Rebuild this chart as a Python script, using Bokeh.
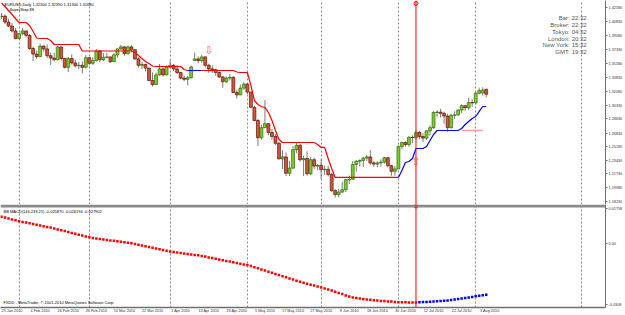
from bokeh.plotting import figure
from bokeh.models import (Range1d, LinearAxis, FixedTicker, Span, Label,
                          BoxAnnotation, Grid, ColumnDataSource)
from bokeh.layouts import column
from bokeh.embed import file_html
from bokeh.resources import INLINE
from bokeh.core.properties import value

FONT = "Liberation Sans"
NAN = float("nan")

# ---------------- data (EURUSD, Daily, 25 Jan 2010 .. 5 Aug 2010) ----------------
opens = [1.4140,1.4145,1.4070,1.4020,1.3960, 1.3865,1.3925,1.3960,1.3905,1.3740,
         1.3670,1.3640,1.3770,1.3735,1.3650, 1.3620,1.3600,1.3760,1.3615,1.3505,
         1.3615,1.3560,1.3525,1.3530,1.3505, 1.3625,1.3555,1.3590,1.3710,1.3600,
         1.3630,1.3635,1.3575,1.3660,1.3735, 1.3760,1.3675,1.3760,1.3725,1.3610,
         1.3530,1.3540,1.3495,1.3340,1.3290, 1.3410,1.3485,1.3410,1.3510,1.3530,
         1.3485,1.3440,1.3370,1.3355,1.3375, 1.3590,1.3610,1.3590,1.3635,1.3530,
         1.3485,1.3475,1.3440,1.3385,1.3325, 1.3370,1.3380,1.3190,1.3160,1.3245,
         1.3295,1.3195,1.3005,1.2840,1.2625, 1.2750,1.2800,1.2690,1.2640,1.2555,
         1.2360,1.2385,1.2180,1.2245,1.2475, 1.2530,1.2350,1.2365,1.2175,1.2350,
         1.2270,1.2280,1.2225,1.2230,1.2165, 1.1965,1.1915,1.1945,1.1975,1.2100,
         1.2105,1.2290,1.2330,1.2340,1.2370, 1.2385,1.2310,1.2295,1.2310,1.2320,
         1.2375,1.2275,1.2205,1.2235,1.2515, 1.2565,1.2540,1.2630,1.2625,1.2690,
         1.2640,1.2620,1.2710,1.2750,1.2940, 1.2945,1.2930,1.2895,1.2750,1.2905,
         1.2910,1.2970,1.3025,1.3000,1.3065, 1.3060,1.3180,1.3185,1.3230]
highs = [1.4185,1.4165,1.4110,1.4060,1.3995, 1.3935,1.3995,1.3965,1.3920,1.3765,
         1.3715,1.3800,1.3780,1.3790,1.3690, 1.3690,1.3770,1.3765,1.3625,1.3635,
         1.3665,1.3600,1.3570,1.3580,1.3660, 1.3630,1.3630,1.3735,1.3715,1.3685,
         1.3685,1.3640,1.3680,1.3740,1.3785, 1.3770,1.3775,1.3780,1.3730,1.3630,
         1.3575,1.3550,1.3500,1.3440,1.3440, 1.3545,1.3495,1.3530,1.3590,1.3545,
         1.3535,1.3450,1.3400,1.3395,1.3525, 1.3690,1.3640,1.3660,1.3645,1.3550,
         1.3530,1.3490,1.3450,1.3395,1.3390, 1.3420,1.3395,1.3225,1.3290,1.3320,
         1.3310,1.3200,1.3025,1.2860,1.2785, 1.3095,1.2810,1.2735,1.2670,1.2575,
         1.2470,1.2440,1.2335,1.2520,1.2560, 1.2545,1.2400,1.2455,1.2385,1.2375,
         1.2295,1.2355,1.2275,1.2275,1.2185, 1.1980,1.1985,1.2075,1.2110,1.2150,
         1.2335,1.2345,1.2355,1.2385,1.2410, 1.2470,1.2335,1.2330,1.2355,1.2385,
         1.2385,1.2285,1.2270,1.2530,1.2575, 1.2580,1.2645,1.2655,1.2720,1.2710,
         1.2680,1.2720,1.2780,1.2960,1.2970, 1.2985,1.2950,1.2925,1.2925,1.2955,
         1.2985,1.3045,1.3030,1.3125,1.3105, 1.3200,1.3250,1.3255,1.3239]
lows = [1.4110,1.4045,1.4005,1.3940,1.3855, 1.3855,1.3905,1.3875,1.3720,1.3580,
        1.3610,1.3630,1.3700,1.3620,1.3535, 1.3580,1.3590,1.3590,1.3490,1.3445,
        1.3540,1.3500,1.3480,1.3430,1.3490, 1.3530,1.3535,1.3575,1.3570,1.3580,
        1.3615,1.3560,1.3570,1.3625,1.3720, 1.3650,1.3665,1.3690,1.3600,1.3500,
        1.3480,1.3455,1.3330,1.3265,1.3285, 1.3400,1.3390,1.3405,1.3490,1.3455,
        1.3420,1.3355,1.3330,1.3280,1.3365, 1.3580,1.3555,1.3560,1.3505,1.3435,
        1.3435,1.3400,1.3370,1.3250,1.3305, 1.3340,1.3185,1.3115,1.3155,1.3225,
        1.3170,1.2995,1.2830,1.2520,1.2600, 1.2750,1.2655,1.2600,1.2530,1.2355,
        1.2235,1.2145,1.2145,1.2230,1.2430, 1.2325,1.2145,1.2150,1.2155,1.2230,
        1.2215,1.2110,1.2160,1.2140,1.1945, 1.1876,1.1877,1.1935,1.1945,1.2045,
        1.2100,1.2200,1.2265,1.2260,1.2335, 1.2285,1.2260,1.2255,1.2265,1.2300,
        1.2255,1.2150,1.2150,1.2230,1.2480, 1.2510,1.2510,1.2555,1.2600,1.2605,
        1.2570,1.2595,1.2650,1.2735,1.2880, 1.2875,1.2800,1.2700,1.2740,1.2860,
        1.2900,1.2930,1.2960,1.2970,1.3010, 1.3040,1.3170,1.3150,1.3130]
closes = [1.4145,1.4070,1.4020,1.3960,1.3865, 1.3925,1.3960,1.3905,1.3740,1.3670,
          1.3640,1.3770,1.3735,1.3650,1.3620, 1.3600,1.3760,1.3615,1.3505,1.3615,
          1.3560,1.3525,1.3530,1.3505,1.3625, 1.3555,1.3590,1.3710,1.3600,1.3630,
          1.3635,1.3575,1.3660,1.3735,1.3760, 1.3675,1.3760,1.3725,1.3610,1.3530,
          1.3540,1.3495,1.3340,1.3290,1.3410, 1.3485,1.3410,1.3510,1.3530,1.3485,
          1.3440,1.3370,1.3355,1.3375,1.3510, 1.3610,1.3590,1.3635,1.3530,1.3485,
          1.3475,1.3440,1.3385,1.3325,1.3370, 1.3380,1.3190,1.3160,1.3245,1.3295,
          1.3195,1.3005,1.2840,1.2625,1.2750, 1.2800,1.2690,1.2640,1.2555,1.2360,
          1.2385,1.2180,1.2245,1.2475,1.2530, 1.2350,1.2365,1.2175,1.2350,1.2270,
          1.2280,1.2225,1.2230,1.2165,1.1965, 1.1915,1.1945,1.1975,1.2100,1.2105,
          1.2290,1.2330,1.2340,1.2370,1.2385, 1.2310,1.2295,1.2310,1.2320,1.2375,
          1.2275,1.2205,1.2235,1.2515,1.2565, 1.2540,1.2630,1.2625,1.2690,1.2640,
          1.2620,1.2710,1.2750,1.2940,1.2945, 1.2930,1.2895,1.2750,1.2905,1.2910,
          1.2970,1.3025,1.3000,1.3065,1.3060, 1.3180,1.3215,1.3220,1.3168]

# trailing stop line: red while falling trend, blue while rising trend
stop_red = ([1.4311,1.4265,1.4215,1.4165,1.4115,1.4065,1.4065,1.4065,1.4028,1.3953,
             1.3871,1.3865,1.3865,1.3865,1.3840,1.3790,1.3790,1.3790,1.3790,1.3790,
             1.3790,1.3790,1.3790,1.3709,1.3709,1.3709,1.3709,1.3709,1.3709,1.3709,
             1.3709,1.3709,1.3709,1.3709,1.3709,1.3709,1.3709,1.3709,1.3690,1.3653,
             1.3615,1.3578,1.3553,1.3521,1.3515,1.3515,1.3515,1.3515,1.3515,1.3515,
             1.3515,1.3515,1.3478,1.3465, NAN, NAN, NAN,1.3465,1.3465,1.3465,
             1.3465,1.3465,1.3465,1.3465,1.3465,1.3465,1.3465,1.3446,1.3440,1.3440,
             1.3440,1.3278,1.3090,1.3040,1.3015,1.3003,1.2940,1.2840,1.2715,1.2603,
             1.2565,1.2565,1.2565,1.2565,1.2565,1.2565,1.2565,1.2565,1.2565,1.2565,
             1.2540,1.2503,1.2503,1.2365,1.2240,1.2128,1.2128,1.2128,1.2128,1.2128,
             1.2128,1.2128,1.2128,1.2128,1.2128,1.2128,1.2128,1.2128,1.2128,1.2128,
             1.2128,1.2128,1.2128,1.2128] + [NAN] * 25)
stop_blue = ([NAN] * 53 + [1.3465,1.3465,1.3465,1.3465,1.3465] + [NAN] * 55 +
             [1.2128,1.2215,1.2315,1.2328,1.2365,1.2490,1.2490,1.2490,1.2515,1.2590,
              1.2665,1.2715,1.2715,1.2715,1.2715,1.2715,1.2715,1.2715,1.2740,1.2790,
              1.2828,1.2865,1.2890,1.2953,1.3015,1.3015])

# BB MACD(144,233,21) line values
macd = [0.01351,0.01308,0.01263,0.01217,0.01172,0.01126,0.01091,0.01055,0.01020,0.00980,
        0.00944,0.00909,0.00874,0.00838,0.00803,0.00758,0.00712,0.00667,0.00626,0.00581,
        0.00535,0.00490,0.00444,0.00404,0.00359,0.00313,0.00283,0.00258,0.00232,0.00207,
        0.00182,0.00157,0.00136,0.00111,0.00086,0.00061,0.00035,0.00010,-0.00025,-0.00061,
        -0.00101,-0.00141,-0.00177,-0.00217,-0.00258,-0.00293,-0.00333,-0.00369,-0.00409,-0.00429,
        -0.00455,-0.00480,-0.00500,-0.00525,-0.00550,-0.00576,-0.00596,-0.00626,-0.00662,-0.00702,
        -0.00737,-0.00773,-0.00808,-0.00843,-0.00879,-0.00914,-0.00949,-0.00985,-0.01020,-0.01055,
        -0.01091,-0.01136,-0.01197,-0.01252,-0.01308,-0.01364,-0.01424,-0.01480,-0.01535,-0.01596,
        -0.01651,-0.01707,-0.01762,-0.01823,-0.01879,-0.01934,-0.01980,-0.02030,-0.02081,-0.02126,
        -0.02177,-0.02227,-0.02273,-0.02323,-0.02368,-0.02434,-0.02495,-0.02555,-0.02621,-0.02682,
        -0.02732,-0.02757,-0.02778,-0.02798,-0.02823,-0.02843,-0.02868,-0.02884,-0.02899,-0.02909,
        -0.02924,-0.02934,-0.02949,-0.02964,-0.02969,-0.02972,-0.02974,-0.02976,-0.02980,-0.02969,
        -0.02959,-0.02949,-0.02939,-0.02924,-0.02914,-0.02904,-0.02894,-0.02879,-0.02858,-0.02828,
        -0.02803,-0.02772,-0.02747,-0.02722,-0.02697,-0.02666,-0.02641,-0.02616,-0.02591]

date_label_bars = [0, 8, 16, 24, 32, 40, 48, 56, 64, 72, 80, 88, 96, 104, 112, 120, 128, 136]
date_labels = ["25 Jan 2010", "4 Feb 2010", "16 Feb 2010", "26 Feb 2010", "10 Mar 2010",
               "22 Mar 2010", "1 Apr 2010", "13 Apr 2010", "23 Apr 2010", "5 May 2010",
               "17 May 2010", "27 May 2010", "8 Jun 2010", "18 Jun 2010", "30 Jun 2010",
               "12 Jul 2010", "22 Jul 2010", "3 Aug 2010"]
grid_bars = [5, 25, 48, 70, 91, 113, 135, 165]
price_ticks = [1.42580, 1.40830, 1.39080, 1.37330, 1.35580, 1.33830, 1.32080, 1.30330,
               1.28630, 1.26830, 1.25180, 1.23430, 1.21730, 1.19980, 1.18230]
macd_ticks = [0.01758, 0.0, -0.0308]
macd_tick_labels = ["0.01758", "0.00", "-0.0308"]
clock_names = ["Bar:", "Broker:", "Tokyo:", "London:", "New York:", "GMT:"]
clock_times = ["22:32", "22:32", "04:32", "20:32", "15:32", "19:32"]
arrow_bars = [59, 118]
arrow_prices = [1.3710, 1.2322]
arrow_glyphs = ["\u21e9", "\u21e7"]
level_line = {"from": 131, "to": 137, "price": 1.2715}
vline_bar = 118
vline_text = "2010.07.08 00:00"
last_price = 1.31680
header = "EURUSD,Daily  1.32300 1.32390 1.31300 1.31680"
ind_name = "SuperStop 88"
macd_header = "BB MACD(144,233,21) -0.025870 -0.026194 -0.027902"
footer = "FXDD - MetaTrader, \u00a9 2001-2010 MetaQuotes Software Corp."

# ---------------- layout constants (pixels of the 625x315 window) ----------------
PX_BAR = 3.53          # pixels per bar
X0 = 1.0               # pixel of bar 0
FRAME_W = 608
P_TOP = 1.434          # price at top edge
P_PX = 0.00125         # price per pixel
M_PX = 0.000505        # macd per pixel
M_ZERO_Y = 243         # pixel of macd zero
H1, FRAME2_H, H2 = 204, 103, 111
RB = 17

def bx(px):
    return (px - X0) / PX_BAR

def py(y):
    return P_TOP - y * P_PX

def my(y):
    return (M_ZERO_Y - y) * M_PX

xr1 = Range1d(bx(0), bx(FRAME_W))
xr2 = Range1d(bx(0), bx(FRAME_W))

def make_fig(height, xr, yr, bottom_border):
    f = figure(width=625, height=height, x_range=xr, y_range=yr,
               toolbar_location=None, output_backend="svg",
               x_axis_location=None, y_axis_location=None,
               min_border_left=0, min_border_top=0, min_border_bottom=bottom_border,
               min_border_right=RB,
               outline_line_color=None, background_fill_color="white",
               border_fill_color="white")
    f.grid.visible = False
    f.add_layout(Grid(dimension=0, ticker=FixedTicker(ticks=grid_bars),
                      grid_line_color="#8c8c8c", grid_line_dash="2 2", grid_line_width=1))
    return f

def right_axis(ticks, labels):
    return LinearAxis(ticker=FixedTicker(ticks=ticks),
                      major_label_overrides=dict(zip(ticks, labels)),
                      major_label_text_font=FONT, major_label_text_font_size="3.8px",
                      major_label_text_color="#333333", major_label_standoff=1,
                      major_tick_out=2, major_tick_in=0, minor_tick_out=0, minor_tick_in=0,
                      axis_line_color="#707070", major_tick_line_color="#707070")

# ---------------- price panel ----------------
p1 = make_fig(H1, xr1, Range1d(py(H1), py(0)), 0)
p1.add_layout(right_axis(price_ticks, ["%.5f" % t for t in price_ticks]), "right")

n = len(opens)
xs = list(range(n))
up = [c >= o for o, c in zip(opens, closes)]
src = ColumnDataSource(dict(
    x=xs, high=highs, low=lows,
    top=[max(o, c) for o, c in zip(opens, closes)],
    bottom=[min(o, c) for o, c in zip(opens, closes)],
    fill=["#7dcb2a" if u else "#d2553c" for u in up],
    edge=["#2f6a0a" if u else "#5e1608" for u in up]))

p1.segment(x0="x", y0="low", x1="x", y1="high", source=src, line_color="#7a7a7a", line_width=1)
p1.vbar(x="x", top="top", bottom="bottom", width=0.82, source=src,
        fill_color="fill", line_color="edge", line_width=0.7)

p1.line(xs, stop_red, line_color="#ff0000", line_width=1.2)
p1.line(xs, stop_blue, line_color="#0000ff", line_width=1.2)
p1.segment(x0=[level_line["from"]], y0=[level_line["price"]],
           x1=[level_line["to"]], y1=[level_line["price"]],
           line_color="#ff9a9a", line_width=1.5)

p1.text(x=arrow_bars, y=arrow_prices, text=arrow_glyphs, text_font=value("DejaVu Sans"),
        text_font_size="11px", text_color="#ff6060", text_align="center", text_baseline="middle")

p1.add_layout(Span(location=vline_bar, dimension="height", line_color="#ff0000", line_width=1))
p1.scatter([vline_bar], [py(3)], marker="circle", size=4, fill_color="white", line_color="#ff0000")

p1.add_layout(Label(x=bx(4), y=py(1), text=header, text_font=FONT, text_font_size="4px",
                    text_color="#000000", text_baseline="top"))
p1.add_layout(Label(x=bx(9), y=py(6.5), text=ind_name, text_font=FONT, text_font_size="4px",
                    text_color="#000000", text_baseline="top"))
for k, (nm, tm) in enumerate(zip(clock_names, clock_times)):
    yy = py(17.3 + 6.9 * k)
    p1.add_layout(Label(x=bx(572), y=yy, text=nm, text_font=FONT, text_font_size="6px",
                        text_color="#555555", text_align="right", text_baseline="middle"))
    p1.add_layout(Label(x=bx(574), y=yy, text=tm, text_font=FONT, text_font_size="6px",
                        text_color="#555555", text_align="left", text_baseline="middle"))
p1.add_layout(Label(x=bx(609.5), y=last_price, text="%.5f" % last_price, text_font=FONT,
                    text_font_size="3.8px", text_color="white", text_baseline="middle",
                    background_fill_color="#000000", padding=1))

# ---------------- indicator panel ----------------
p2 = make_fig(H2, xr2, Range1d(my(H1 + FRAME2_H), my(H1)), H2 - FRAME2_H)
p2.add_layout(BoxAnnotation(bottom=my(207), top=my(H1), fill_color="#8a8a8a",
                            fill_alpha=1.0, line_alpha=0))
p2.add_layout(right_axis(macd_ticks, macd_tick_labels), "right")

LABEL_SHIFT = 3.0  # MT4 writes each date to the right of its bar
dax = LinearAxis(ticker=FixedTicker(ticks=[b + LABEL_SHIFT for b in date_label_bars]),
                 major_label_overrides={b + LABEL_SHIFT: s for b, s in zip(date_label_bars, date_labels)},
                 major_label_text_font=FONT, major_label_text_font_size="3.8px",
                 major_label_text_color="#333333", major_label_standoff=1,
                 major_tick_out=0, major_tick_in=0, minor_tick_out=0, minor_tick_in=0,
                 axis_line_color="#707070", axis_line_width=1.5)
p2.add_layout(dax, "below")

dot_colors = ["#ff0000"] + ["#0000ff" if macd[i] > macd[i - 1] else "#ff0000" for i in range(1, n)]
p2.scatter(xs, macd, marker="square", size=2.5, fill_color=dot_colors, line_color=None)

p2.add_layout(Span(location=vline_bar, dimension="height", line_color="#ff0000", line_width=1))
p2.scatter([vline_bar], [my(205.5)], marker="circle", size=4, fill_color="white", line_color="#ff0000")

p2.add_layout(Label(x=bx(3), y=my(208.5), text=macd_header, text_font=FONT, text_font_size="4px",
                    text_color="#000000", text_baseline="top"))
p2.add_layout(Label(x=bx(3), y=my(301.5), text=footer, text_font=FONT, text_font_size="4px",
                    text_color="#000000", text_baseline="middle"))
p2.add_layout(Label(x=vline_bar, y=my(308), text=vline_text, text_font=FONT, text_font_size="3.8px",
                    text_color="white", text_align="center", text_baseline="top",
                    background_fill_color="#ff0000", padding=1))

layout = column(p1, p2, spacing=0)
open("out.html", "w").write(file_html(layout, INLINE))
